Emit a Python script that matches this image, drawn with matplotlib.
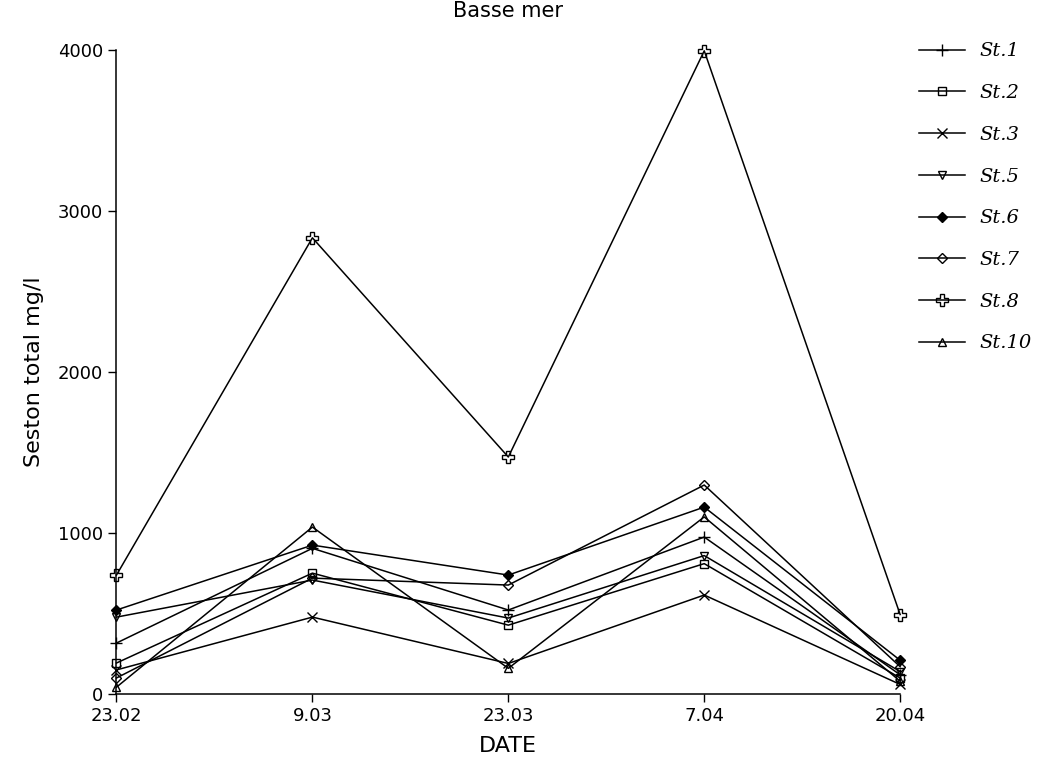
import matplotlib
matplotlib.use("Agg")
import matplotlib.pyplot as plt

dates = ["23.02", "9.03", "23.03", "7.04", "20.04"]
st1 = [317, 905, 522, 975, 120]
st2 = [193, 751, 428, 810, 100]
st3 = [150, 478, 190, 615, 60]
st5 = [478, 708, 472, 860, 140]
st6 = [522, 925, 739, 1161, 210]
st7 = [100, 720, 677, 1298, 170]
st8 = [739, 2833, 1472, 3994, 494]
st10 = [43, 1037, 160, 1100, 80]

series = [
    ("St.1", st1, dict(marker="+", markersize=9)),
    ("St.2", st2, dict(marker="s", fillstyle="none", markersize=6)),
    ("St.3", st3, dict(marker="x", markersize=7)),
    ("St.5", st5, dict(marker="v", fillstyle="none", markersize=6)),
    ("St.6", st6, dict(marker="D", markersize=5)),
    ("St.7", st7, dict(marker="D", fillstyle="none", markersize=5)),
    ("St.8", st8, dict(marker="P", fillstyle="none", markersize=8)),
    ("St.10", st10, dict(marker="^", fillstyle="none", markersize=6)),
]

fig = plt.figure(figsize=(10.59, 7.79), dpi=100)
ax = fig.add_axes([0.110, 0.109, 0.740, 0.827])
x = list(range(len(dates)))
for name, vals, style in series:
    ax.plot(x, vals, color="black", linewidth=1.1, markeredgewidth=1.0,
            markeredgecolor="black",
            markerfacecolor="black" if style.get("fillstyle") != "none" else "none",
            label=name, clip_on=False, **style)

ax.set_xlim(0, 4)
ax.set_ylim(0, 4000)
ax.set_xticks(x)
ax.set_xticklabels(dates)
ax.set_yticks([0, 1000, 2000, 3000, 4000])
ax.spines["top"].set_visible(False)
ax.spines["right"].set_visible(False)
for s in ("left", "bottom"):
    ax.spines[s].set_linewidth(1.1)
ax.tick_params(direction="out", length=6, width=1, labelsize=13, colors="black")
ax.set_xlabel("DATE", fontsize=16, labelpad=8)
ax.set_ylabel("Seston total mg/l", fontsize=16, labelpad=10)
ax.set_title("Basse mer", fontsize=15, pad=24)

fig.legend(loc="upper left", bbox_to_anchor=(0.851, 0.968), frameon=False,
           handlelength=2.4, labelspacing=1.22, handletextpad=0.7,
           prop={"style": "italic", "family": "DejaVu Serif", "size": 14})
fig.savefig("out.png", dpi=100)
